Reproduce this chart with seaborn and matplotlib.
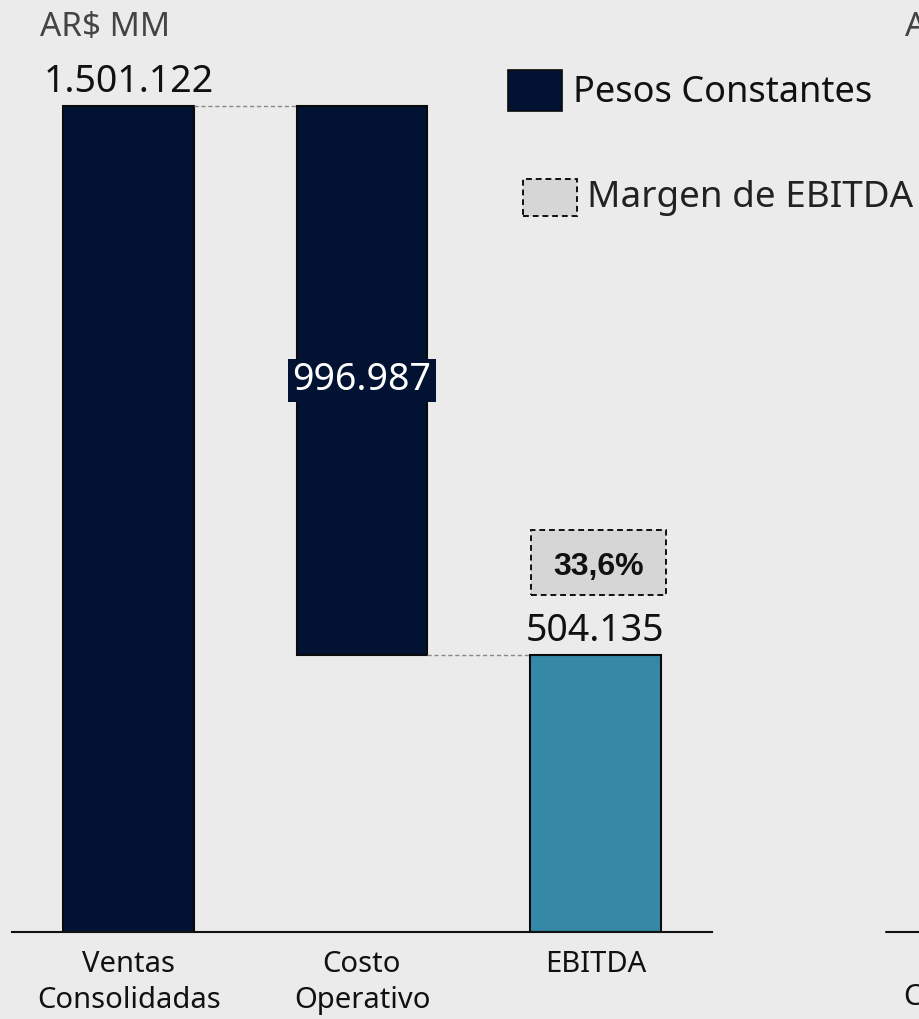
import pandas as pd
import matplotlib.pyplot as plt
import seaborn as sns
from matplotlib.patches import Rectangle
from matplotlib.lines import Line2D

# Datos del gráfico (AR$ MM, pesos constantes)
categorias = ['Ventas\nConsolidadas', 'Costo\nOperativo', 'EBITDA']
valores = [1501122, 996987, 504135]
bases = [0, 504135, 0]
etiquetas = ['1.501.122', '996.987', '504.135']
margen_ebitda = '33,6%'
colores = ['#021232', '#021232', '#3589a6']

BG = '#ebebeb'
sns.set_theme(style='white', rc={'axes.facecolor': BG, 'figure.facecolor': BG})
plt.rcParams['font.family'] = ['Noto Sans', 'DejaVu Sans']

df = pd.DataFrame({'categoria': categorias, 'valor': valores})

fig = plt.figure(figsize=(9.2, 10.19), dpi=100)
W, H = 920, 1019
ax = fig.add_axes([12 / W, 87 / H, 700 / W, 880.5 / H])
px = 1.6e6 / 880.5          # unidades de datos por píxel vertical
pxx = 3.0 / 700             # unidades de datos por píxel horizontal

sns.barplot(data=df, x='categoria', y='valor', color=colores[0], saturation=1,
            width=0.56, edgecolor='#0a0a0a', linewidth=1.5, ax=ax)
# barras flotantes (cascada): desplazar la base de cada barra
for p, c, b in zip(ax.patches, colores, bases):
    p.set_facecolor(c)
    p.set_y(b)

ax.set_xlim(-0.5, 2.5)
ax.set_ylim(0, 1.6e6)
ax.set_xlabel('')
ax.set_ylabel('')
ax.set_yticks([])
ax.tick_params(axis='x', length=0, pad=13, labelsize=21, colors='#111111')
for t in ax.get_xticklabels():
    t.set_linespacing(1.32)
for s in ['left', 'right', 'top']:
    ax.spines[s].set_visible(False)
ax.spines['bottom'].set_color('#111111')
ax.spines['bottom'].set_linewidth(1.5)

# Líneas de conexión
tops = [b + v for b, v in zip(bases, valores)]
ax.plot([0.28, 0.72], [tops[0], tops[0]], ls=(0, (3, 2)), color='#888888', lw=1)
ax.plot([1.28, 1.72], [bases[1], bases[1]], ls=(0, (3, 2)), color='#888888', lw=1)

# Etiquetas de valores
ax.text(0, tops[0] + 14 * px, etiquetas[0], ha='center', va='baseline', fontsize=27, color='#111111')
mid = bases[1] + valores[1] / 2
ax.add_patch(Rectangle((1 - 74 * pxx, mid - 21.5 * px), 148 * pxx, 43 * px,
                       fc='#021232', ec='none', zorder=3))
ax.text(1, mid, etiquetas[1], ha='center', va='center', fontsize=27, color='white', zorder=4)
ax.text(2, tops[2] + 14 * px, etiquetas[2], ha='center', va='baseline', fontsize=27, color='#111111')

# Margen de EBITDA
ax.add_patch(Rectangle((2 - 64 * pxx, tops[2] + 60 * px), 135 * pxx, 65 * px,
                       fc='#d6d6d6', ec='#111111', ls=(0, (3, 2)), lw=1.4, zorder=3))
ax.text(2 + 3.5 * pxx, tops[2] + 88 * px, margen_ebitda, ha='center', va='center', fontsize=23,
        fontweight='bold', family=['Liberation Sans', 'DejaVu Sans'], color='#111111', zorder=4)

# Unidad
fig.text(40 / W, 1 - 27 / H, 'AR$ MM', ha='left', va='center', fontsize=24, color='#444444')

# Leyenda manual
fig.add_artist(Rectangle((508 / W, 1 - 111 / H), 54 / W, 41 / H, transform=fig.transFigure,
                         fc='#021232', ec='#0a0a0a', lw=1.2))
fig.text(573 / W, 1 - 93 / H, 'Pesos Constantes', ha='left', va='center', fontsize=26, color='#111111')
fig.add_artist(Rectangle((523 / W, 1 - 216 / H), 54 / W, 37 / H, transform=fig.transFigure,
                         fc='#d6d6d6', ec='#111111', lw=1.4, ls=(0, (3, 2))))
fig.text(587 / W, 1 - 198 / H, 'Margen de EBITDA', ha='left', va='center', fontsize=26.5, color='#222222')

# Fragmento del gráfico siguiente (recortado en el borde derecho)
fig.text(905 / W, 1 - 27 / H, 'AR$ MM', ha='left', va='center', fontsize=24, color='#444444')
fig.add_artist(Line2D([886 / W, 1], [87 / H, 87 / H], transform=fig.transFigure,
                      color='#111111', lw=1.5))
fig.text(995 / W, 1 - 947 / H, 'Ventas\nConsolidadas', ha='center', va='top', fontsize=21,
         color='#111111', linespacing=1.32)

fig.savefig('out.png', dpi=100, facecolor=BG)
